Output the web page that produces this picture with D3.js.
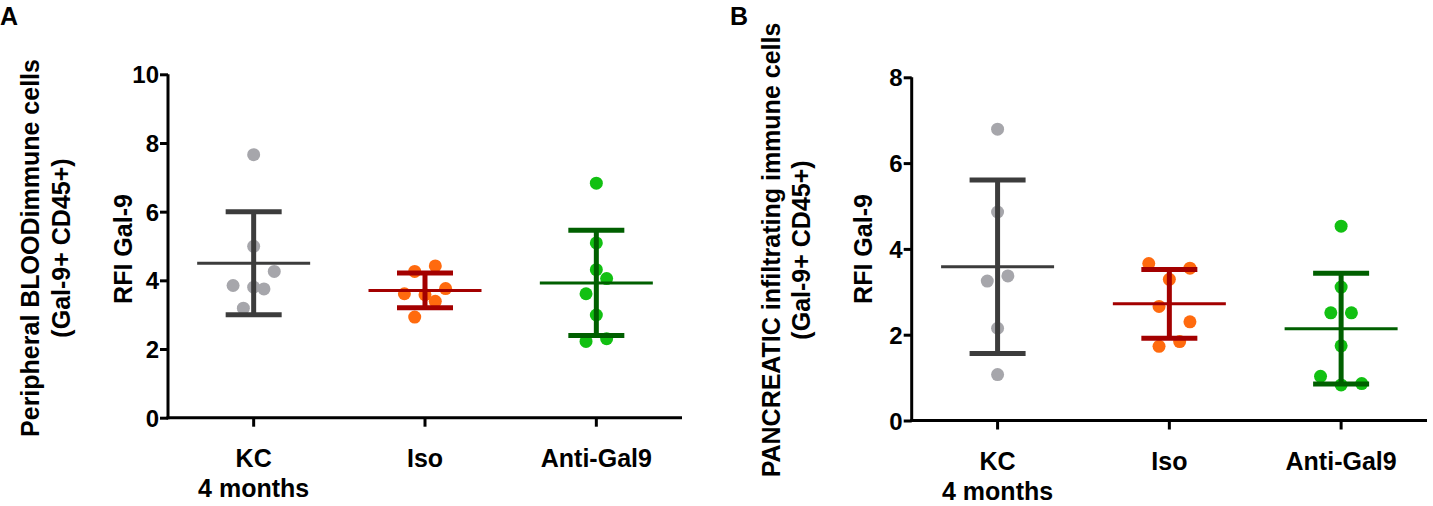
<!DOCTYPE html>
<html>
<head>
<meta charset="utf-8">
<script src="https://cdn.jsdelivr.net/npm/d3@7"></script>
<style>
  html, body { margin: 0; padding: 0; background: #fff; }
  svg { display: block; font-family: "Liberation Sans", Arial, Helvetica, sans-serif; font-weight: bold; }
</style>
</head>
<body>
<svg id="chart" width="1433" height="506"></svg>
<script>
// ---------- DATA ----------
const categories = ["KC", "Iso", "Anti-Gal9"];
const categorySub = ["4 months", "", ""];

// Panel A: peripheral blood immune cells (RFI Gal-9)
const bloodKC      = [7.66, 4.99, 4.26, 3.85, 3.80, 3.75, 3.19];
const bloodKCSlot  = [0, 0, 2, -2, 0, 1, -1];
const bloodIso     = [4.42, 4.26, 3.76, 3.61, 3.58, 3.39, 2.93];
const bloodIsoSlot = [1, -1, 2, -2, 0, 1, -1];
const bloodAnti     = [6.83, 5.09, 4.31, 4.05, 3.61, 2.99, 2.30, 2.22];
const bloodAntiSlot = [0, 0, 0, 1, -1, 0, 1, -1];

// Panel B: pancreatic infiltrating immune cells (RFI Gal-9)
const pancKC      = [6.79, 4.86, 3.37, 3.25, 2.15, 1.07];
const pancKCSlot  = [0, 0, 1, -1, 0, 0];
const pancIso     = [3.66, 3.55, 3.29, 2.66, 2.30, 1.84, 1.73];
const pancIsoSlot = [-2, 2, 0, -1, 2, 1, -1];
const pancAnti     = [4.53, 3.11, 2.51, 2.51, 1.74, 1.03, 0.86, 0.83];
const pancAntiSlot = [0, 0, -1, 1, 0, -2, 2, 0];

const yTicksA = [0, 2, 4, 6, 8, 10];
const yTicksB = [0, 2, 4, 6, 8];

const panelLetters = ["A", "B"];
const titleA = ["Peripheral BLOODimmune cells", "(Gal-9+ CD45+)"];
const titleB = ["PANCREATIC infiltrating immune cells", "(Gal-9+ CD45+)"];
const yLabel = "RFI Gal-9";

// ---------- STYLE ----------
const dotColors  = ["#a6a6ab", "#ff6a0e", "#12c012"];
const lineColors = ["#3c3c3c", "#a30000", "#005f00"];
const FONT = 25;
const TICKFONT = 24;
const DOT_R = 6.5;
const SLOT = 10.3;
const MEAN_HALF = 56.5;
const CAP_HALF = 28;

const svg = d3.select("#chart");

const panels = [
  {
    letter: panelLetters[0], letterX: 0,
    groups: [[bloodKC, bloodKCSlot], [bloodIso, bloodIsoSlot], [bloodAnti, bloodAntiSlot]],
    yMax: 10, yTicks: yTicksA,
    x0: 168, x1: 682, yTop: 74.3, yBot: 417.7,
    title: titleA, titleX: [39, 70], titleY: 248,
    ylabX: 131.5, ylabY: 249
  },
  {
    letter: panelLetters[1], letterX: 730,
    groups: [[pancKC, pancKCSlot], [pancIso, pancIsoSlot], [pancAnti, pancAntiSlot]],
    yMax: 8, yTicks: yTicksB,
    x0: 911.7, x1: 1427, yTop: 77.3, yBot: 420.5,
    title: titleB, titleX: [780, 810], titleY: 250,
    ylabX: 871.7, ylabY: 249
  }
];

panels.forEach(p => {
  const g = svg.append("g");
  const x = d3.scaleBand().domain(categories).range([p.x0, p.x1]);
  const y = d3.scaleLinear().domain([0, p.yMax]).range([p.yBot, p.yTop]);
  const cx = c => x(c) + x.bandwidth() / 2;

  // panel letter
  g.append("text").attr("x", p.letterX).attr("y", 25)
    .attr("font-size", 25).attr("fill", "#000").text(p.letter);

  // outer title (two lines, rotated)
  p.title.forEach((t, i) => {
    g.append("text")
      .attr("transform", `translate(${p.titleX[i]},${p.titleY}) rotate(-90)`)
      .attr("text-anchor", "middle").attr("font-size", FONT).attr("fill", "#000")
      .text(t);
  });

  // y label
  g.append("text")
    .attr("transform", `translate(${p.ylabX},${p.ylabY}) rotate(-90)`)
    .attr("text-anchor", "middle").attr("font-size", FONT).attr("fill", "#000")
    .text(yLabel);

  // data points
  p.groups.forEach((grp, gi) => {
    const [vals, slots] = grp;
    const c = categories[gi];
    g.append("g").selectAll("circle").data(vals).join("circle")
      .attr("cx", (d, i) => cx(c) + slots[i] * SLOT)
      .attr("cy", d => y(d))
      .attr("r", DOT_R)
      .attr("fill", dotColors[gi]);
  });

  // mean and SD bars
  p.groups.forEach((grp, gi) => {
    const vals = grp[0];
    const c = categories[gi];
    const m = d3.mean(vals), sd = d3.deviation(vals);
    const lg = g.append("g").attr("stroke", lineColors[gi]).attr("fill", "none");
    lg.append("line").attr("x1", cx(c)).attr("x2", cx(c))
      .attr("y1", y(m + sd)).attr("y2", y(m - sd)).attr("stroke-width", 5);
    [m + sd, m - sd].forEach(v => {
      lg.append("line").attr("x1", cx(c) - CAP_HALF).attr("x2", cx(c) + CAP_HALF)
        .attr("y1", y(v)).attr("y2", y(v)).attr("stroke-width", 5);
    });
    lg.append("line").attr("x1", cx(c) - MEAN_HALF).attr("x2", cx(c) + MEAN_HALF)
      .attr("y1", y(m)).attr("y2", y(m)).attr("stroke-width", 3);
  });

  // y axis
  const yAx = g.append("g").attr("transform", `translate(${p.x0},0)`)
    .call(d3.axisLeft(y).tickValues(p.yTicks).tickFormat(d3.format("d"))
      .tickSize(8).tickSizeOuter(0).tickPadding(1));
  yAx.select(".domain").attr("stroke", "#000").attr("stroke-width", 3)
    .attr("d", `M0,${p.yTop}V${p.yBot + 1.5}`);
  yAx.selectAll(".tick line").attr("stroke", "#000").attr("stroke-width", 3);
  yAx.selectAll(".tick text").attr("font-size", TICKFONT).attr("fill", "#000")
    .attr("font-family", null).attr("dy", "0.36em");

  // x axis
  const xAx = g.append("g").attr("transform", `translate(0,${p.yBot})`)
    .call(d3.axisBottom(x).tickSize(9).tickSizeOuter(0).tickFormat(() => ""));
  xAx.select(".domain").attr("stroke", "#000").attr("stroke-width", 3)
    .attr("d", `M${p.x0 - 1.5},0H${p.x1}`);
  xAx.selectAll(".tick line").attr("stroke", "#000").attr("stroke-width", 3);

  // category labels
  categories.forEach((c, i) => {
    const t = g.append("text").attr("text-anchor", "middle")
      .attr("font-size", FONT).attr("fill", "#000");
    t.append("tspan").attr("x", cx(c)).attr("y", p.yBot + 49).text(c);
    if (categorySub[i]) {
      t.append("tspan").attr("x", cx(c)).attr("y", p.yBot + 79).text(categorySub[i]);
    }
  });
});
</script>
</body>
</html>
